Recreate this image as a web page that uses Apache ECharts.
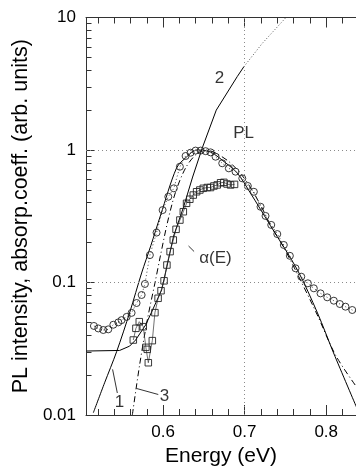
<!DOCTYPE html>
<html><head><meta charset="utf-8">
<script src="https://cdn.jsdelivr.net/npm/echarts@6/dist/echarts.min.js"></script>
<style>html,body{margin:0;padding:0;background:#fff}#c{width:356px;height:466px}</style>
</head><body><div id="c"></div>
<script>
// ---- data ----
const plEnergy = [0.5152,0.5206,0.5267,0.5328,0.539,0.5451,0.5491,0.5553,0.5614,0.5675,0.5737,0.5777,0.5838,0.592,0.5994,0.6064,0.6132,0.6206,0.6276,0.6337,0.6398,0.646,0.6521,0.6582,0.6643,0.6725,0.6806,0.6888,0.6971,0.7039,0.7113,0.7195,0.7256,0.7326,0.74,0.748,0.7554,0.7624,0.7694,0.7775,0.7848,0.793,0.8012,0.8093,0.8167,0.8236,0.8319,0.8371];
const plIntensity = [0.047,0.045,0.0438,0.0443,0.048,0.050,0.052,0.055,0.059,0.070,0.0805,0.0975,0.161,0.238,0.352,0.444,0.514,0.748,0.901,0.954,0.99,0.99,0.98,0.96,0.89,0.794,0.727,0.686,0.611,0.535,0.484,0.373,0.318,0.272,0.232,0.192,0.159,0.128,0.1106,0.0986,0.0904,0.0828,0.0773,0.0729,0.0688,0.0657,0.062,0.060];

const absEnergy = [0.5635,0.5667,0.5708,0.5757,0.5789,0.5806,0.5819,0.5868,0.59,0.5939,0.5975,0.6012,0.6047,0.6086,0.6125,0.6159,0.6206,0.6248,0.6288,0.6328,0.637,0.6411,0.6451,0.6493,0.6542,0.6582,0.6623,0.6664,0.6705,0.6745,0.6784,0.6827,0.6876];
const absCoeff = [0.0368,0.0451,0.0506,0.0464,0.0324,0.0313,0.0248,0.0364,0.0592,0.076,0.0867,0.103,0.1355,0.171,0.2094,0.252,0.296,0.342,0.396,0.425,0.457,0.484,0.499,0.514,0.521,0.521,0.535,0.545,0.566,0.57,0.554,0.545,0.55];

const curve1Energy = [0.5145,0.5283,0.543,0.5593,0.5737,0.585,0.597,0.6165,0.6288,0.641,0.658,0.6766,0.691,0.707,0.7317,0.7648,0.7893,0.809,0.837];
const curve1Value  = [0.0104,0.0175,0.030,0.060,0.118,0.19,0.323,0.731,0.886,1.0,0.966,0.80,0.67,0.474,0.268,0.124,0.0589,0.0294,0.0115];

const curve2Energy = [0.5063,0.5467,0.559,0.5663,0.5786,0.5871,0.5982,0.6043,0.6129,0.6251,0.6362,0.648,0.6652,0.6909,0.699];
const curve2Value  = [0.0304,0.0307,0.0331,0.0368,0.0478,0.062,0.0878,0.1286,0.2244,0.371,0.625,1.035,2.0,3.58,4.25];
const curve2ExtEnergy = [0.699,0.7216,0.7501];
const curve2ExtValue  = [4.25,6.38,9.92];

const curve3Energy = [0.5623,0.5712,0.5806,0.59,0.5969,0.6055,0.6153,0.6276,0.6398,0.652,0.6643,0.6827,0.7011,0.7195,0.7317,0.7477,0.7685,0.789,0.8114,0.8371];
const curve3Value  = [0.01,0.0238,0.052,0.099,0.161,0.286,0.482,0.732,0.917,1.0,0.949,0.798,0.594,0.384,0.271,0.185,0.104,0.057,0.0283,0.0163];

const xMajorTicks = [0.6,0.7,0.8];
const xTickLabels = ['0.6','0.7','0.8'];
const xMinorTicks = [0.52,0.54,0.56,0.58,0.62,0.64,0.66,0.68,0.72,0.74,0.76,0.78,0.82];
const yMajorTicks = [0.01,0.1,1,10];
const yTickLabels = ['0.01','0.1','1','10'];
const yMinorTicks = [0.02,0.03,0.04,0.05,0.06,0.07,0.08,0.09,0.2,0.3,0.4,0.5,0.6,0.7,0.8,0.9,2,3,4,5,6,7,8,9];

const annotationText = ['2','PL','\u03b1(E)','1','3'];
const annotationEnergy = [0.6692,0.6987,0.6643,0.5466,0.6018];
const annotationValue = [3.5,1.34,0.153,0.0125,0.0139];

const leaderFromE = [0.5439,0.5941,0.6312];
const leaderFromV = [0.01466,0.01428,0.1886];
const leaderToE = [0.5381,0.5675,0.638];
const leaderToV = [0.0221,0.01585,0.1714];

// ---- build ----
const zip = (a,b)=>a.map((x,i)=>[x,b[i]]);
const FONT = '"Liberation Sans", Arial, Helvetica, sans-serif';
const X_MIN = 0.5055, X_MAX = 0.8365;
const AXIS_COLOR = '#333';

function xAxisBase(pos, extra){
  return Object.assign({
    type:'value', position:pos, min:X_MIN, max:X_MAX, gridIndex:0,
    splitLine:{show:false}, axisLine:{show:false}, axisLabel:{show:false},
    axisTick:{show:false}
  }, extra);
}

const chart = echarts.init(document.getElementById('c'), null, {renderer:'canvas'});
chart.setOption({
  animation:false,
  backgroundColor:'#fff',
  textStyle:{fontFamily:FONT},
  grid:{left:86, right:0, top:17.5, bottom:51, containLabel:false, outerBoundsMode:'none'},
  xAxis:[
    xAxisBase('bottom', {
      axisLine:{show:true, lineStyle:{color:AXIS_COLOR, width:1}},
      axisTick:{show:true, inside:true, length:10, customValues:xMajorTicks, lineStyle:{color:AXIS_COLOR}},
      axisLabel:{show:true, customValues:xMajorTicks, margin:9, fontSize:17, color:'#000', fontFamily:FONT,
        formatter:(v)=>{const i=xMajorTicks.findIndex(t=>Math.abs(t-v)<1e-6); return i>=0?xTickLabels[i]:'';}},
      name:'Energy (eV)', nameLocation:'middle', nameGap:31,
      nameTextStyle:{fontSize:21, color:'#000', fontFamily:FONT}
    }),
    xAxisBase('bottom', {
      axisTick:{show:true, inside:true, length:6, customValues:xMinorTicks, lineStyle:{color:AXIS_COLOR}}
    }),
    xAxisBase('top', {
      axisLine:{show:true, lineStyle:{color:AXIS_COLOR, width:1}},
      axisTick:{show:true, inside:true, length:10, customValues:xMajorTicks, lineStyle:{color:AXIS_COLOR}}
    }),
    xAxisBase('top', {
      axisTick:{show:true, inside:true, length:6, customValues:xMinorTicks, lineStyle:{color:AXIS_COLOR}}
    })
  ],
  yAxis:[
    {
      type:'log', logBase:10, min:0.01, max:10, position:'left',
      splitLine:{show:false},
      axisLine:{show:true, lineStyle:{color:AXIS_COLOR, width:1}},
      axisTick:{show:true, inside:true, length:9, customValues:yMajorTicks, lineStyle:{color:AXIS_COLOR}},
      axisLabel:{show:true, customValues:yMajorTicks, margin:10, fontSize:17, color:'#000', fontFamily:FONT,
        formatter:(v)=>{const i=yMajorTicks.findIndex(t=>Math.abs(Math.log10(t)-Math.log10(v))<1e-6); return i>=0?yTickLabels[i]:'';}},
      name:'PL intensity, absorp.coeff. (arb. units)', nameLocation:'middle', nameGap:47,
      nameTextStyle:{fontSize:21.5, color:'#000', fontFamily:FONT}
    },
    {
      type:'log', logBase:10, min:0.01, max:10, position:'left',
      splitLine:{show:false}, axisLine:{show:false}, axisLabel:{show:false},
      axisTick:{show:true, inside:true, length:5.5, customValues:yMinorTicks, lineStyle:{color:AXIS_COLOR}}
    }
  ],
  series:[
    {
      name:'curve2', type:'line', data:zip(curve2Energy, curve2Value), showSymbol:false, clip:true,
      lineStyle:{color:'#000', width:1}, z:2,
      markLine:{silent:true, symbol:'none', label:{show:false}, animation:false,
        lineStyle:{color:'#8a8a8a', type:[1,3], width:1},
        data:[{xAxis:0.7},{yAxis:1},{yAxis:0.1}]}
    },
    {
      name:'curve2ext', type:'line', data:zip(curve2ExtEnergy, curve2ExtValue), showSymbol:false, clip:true,
      lineStyle:{color:'#555', width:1, type:[1,2]}, z:2
    },
    {
      name:'curve1', type:'line', data:zip(curve1Energy, curve1Value), showSymbol:false, clip:true, smooth:0.3,
      lineStyle:{color:'#000', width:1}, z:2
    },
    {
      name:'curve3', type:'line', data:zip(curve3Energy, curve3Value), showSymbol:false, clip:true, smooth:0.3,
      lineStyle:{color:'#000', width:1, type:[6,3,1,3]}, z:2,
      markLine:{silent:true, symbol:'none', label:{show:false}, animation:false,
        lineStyle:{color:'#000', type:'solid', width:0.8},
        data:leaderFromE.map((e,i)=>[{coord:[e,leaderFromV[i]]},{coord:[leaderToE[i],leaderToV[i]]}])}
    },
    {
      name:'alpha', type:'line', data:zip(absEnergy, absCoeff), clip:true,
      symbol:'rect', symbolSize:6.5, showSymbol:true,
      lineStyle:{color:'#333', width:0.7},
      itemStyle:{color:'rgba(255,255,255,0)', borderColor:'#222', borderWidth:0.9}, z:3
    },
    {
      name:'PL', type:'line', data:zip(plEnergy, plIntensity), clip:true,
      symbol:'circle', symbolSize:7, showSymbol:true,
      lineStyle:{color:'#444', width:1, type:[1,2.5]},
      itemStyle:{color:'rgba(255,255,255,0)', borderColor:'#222', borderWidth:0.9}, z:3
    },
    {
      name:'annotations', type:'scatter', symbolSize:1, clip:false,
      itemStyle:{color:'rgba(0,0,0,0)'},
      data:annotationText.map((t,i)=>({name:t, value:[annotationEnergy[i], annotationValue[i]]})),
      label:{show:true, position:'inside', formatter:'{b}', fontSize:17, color:'#000', fontFamily:FONT}, z:4
    }
  ]
});
</script>
</body></html>
